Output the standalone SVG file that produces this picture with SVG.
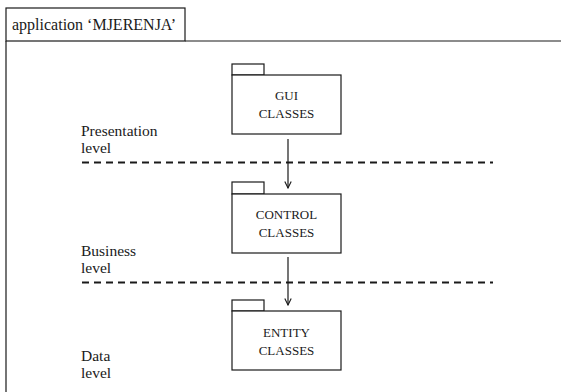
<svg xmlns="http://www.w3.org/2000/svg" width="561" height="392" viewBox="0 0 561 392">
  <defs>
    <style>
      .frame { fill: none; stroke: #1a1a1a; stroke-width: 1.2; }
      .pkg { fill: #ffffff; stroke: #1a1a1a; stroke-width: 1.2; }
      .title { font-family: "Liberation Serif", "Times New Roman", serif; font-size: 16px; fill: #1a1a1a; }
      .lvl { font-family: "Liberation Serif", "Times New Roman", serif; font-size: 15.5px; fill: #1a1a1a; }
      .pkgtxt { font-family: "Liberation Serif", "Times New Roman", serif; font-size: 13px; fill: #1a1a1a; text-anchor: middle; }
      .sep { fill: none; stroke: #1a1a1a; stroke-width: 2; stroke-dasharray: 7 5; }
      .dep { fill: none; stroke: #1a1a1a; stroke-width: 1.2; }
    </style>
    <marker id="openArrow" viewBox="0 0 10 10" refX="9" refY="5" markerWidth="8" markerHeight="8" markerUnits="userSpaceOnUse" orient="auto">
      <path d="M1,1 L9,5 L1,9" fill="none" stroke="#1a1a1a" stroke-width="1.4"/>
    </marker>
  </defs>

  <rect width="561" height="392" fill="#ffffff"/>

  <!-- application frame with name tab -->
  <g id="frame">
    <rect class="frame" x="6" y="8" width="179" height="33"/>
    <path class="frame" d="M6,41 V400 M185,41 H570"/>
    <text class="title" x="12" y="30">application ‘MJERENJA’</text>
  </g>

  <!-- layer labels -->
  <g id="level-presentation">
    <text class="lvl" x="81" y="136">Presentation</text>
    <text class="lvl" x="81" y="153">level</text>
  </g>
  <g id="level-business">
    <text class="lvl" x="81" y="256">Business</text>
    <text class="lvl" x="81" y="273">level</text>
  </g>
  <g id="level-data">
    <text class="lvl" x="81" y="361">Data</text>
    <text class="lvl" x="81" y="378">level</text>
  </g>

  <!-- layer boundaries -->
  <g id="separators">
    <line class="sep" x1="82" y1="162.5" x2="493" y2="162.5"/>
    <line class="sep" x1="82" y1="282.5" x2="493" y2="282.5"/>
  </g>

  <!-- packages -->
  <g id="pkg-gui">
    <rect class="pkg" x="232" y="64" width="32" height="11"/>
    <rect class="pkg" x="232" y="75" width="109" height="59"/>
    <text class="pkgtxt" x="286.5" y="100">GUI</text>
    <text class="pkgtxt" x="286.5" y="118">CLASSES</text>
  </g>
  <g id="pkg-control">
    <rect class="pkg" x="232" y="182" width="32" height="12"/>
    <rect class="pkg" x="232" y="194" width="109" height="59"/>
    <text class="pkgtxt" x="286.5" y="219">CONTROL</text>
    <text class="pkgtxt" x="286.5" y="237">CLASSES</text>
  </g>
  <g id="pkg-entity">
    <rect class="pkg" x="232" y="300" width="32" height="11"/>
    <rect class="pkg" x="232" y="311" width="109" height="59"/>
    <text class="pkgtxt" x="286.5" y="337">ENTITY</text>
    <text class="pkgtxt" x="286.5" y="355">CLASSES</text>
  </g>

  <!-- dependencies -->
  <g id="connectors">
    <line class="dep" x1="288" y1="139" x2="288" y2="188" marker-end="url(#openArrow)"/>
    <line class="dep" x1="288" y1="257" x2="288" y2="305" marker-end="url(#openArrow)"/>
  </g>
</svg>
